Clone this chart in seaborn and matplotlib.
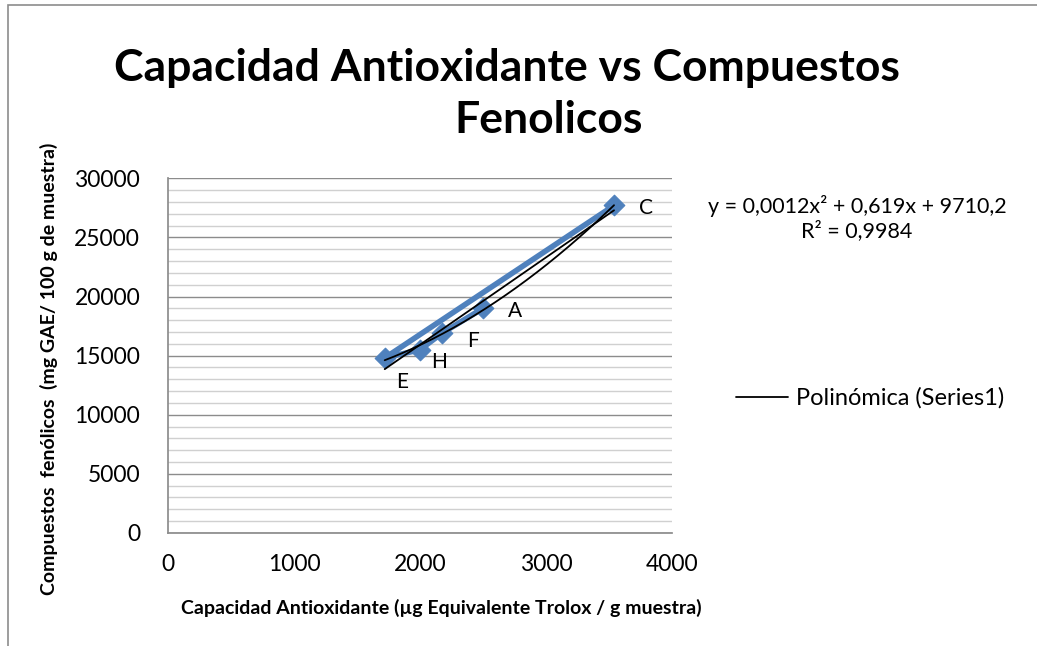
import numpy as np
import pandas as pd
import matplotlib
matplotlib.use("Agg")
import matplotlib.pyplot as plt
import seaborn as sns
from matplotlib.ticker import MultipleLocator
from matplotlib.patches import Rectangle

# data (series order as plotted)
muestras = ["A", "F", "H", "E", "C"]
capacidad = [2500, 2175, 2000, 1720, 3540]
fenolicos = [19000, 16900, 15500, 14800, 27700]
label_offsets = [(18, -2), (18, -6), (8, -9), (8, -17), (18, -2)]

title_lines = ["Capacidad Antioxidante vs Compuestos", "Fenolicos"]
equation = "y = 0,0012x² + 0,619x + 9710,2\nR² = 0,9984"

df = pd.DataFrame({"muestra": muestras, "x": capacidad, "y": fenolicos})

sns.set_theme(style="white")
plt.rcParams["font.family"] = ["Lato", "DejaVu Sans"]
plt.rcParams["text.color"] = "black"
plt.rcParams["axes.labelcolor"] = "black"
plt.rcParams["xtick.color"] = "black"
plt.rcParams["ytick.color"] = "black"

fig = plt.figure(figsize=(10.37, 6.46), dpi=100)
ax = fig.add_axes([0.162, 0.175, 0.486, 0.549])

# border of the chart area
fig.patches.append(Rectangle((8 / 1037, -0.1), 1.2, 1.1 - 5 / 646, transform=fig.transFigure,
                             fill=False, edgecolor="#8c8c8c", linewidth=1.2))

blue = "#4F81BD"
sns.lineplot(data=df, x="x", y="y", sort=False, estimator=None, color=blue,
             linewidth=4, ax=ax, zorder=3)
sns.scatterplot(data=df, x="x", y="y", marker="D", s=110, color=blue,
                edgecolor=blue, ax=ax, zorder=4)

# trend lines
xs = np.linspace(min(capacidad), max(capacidad), 200)
poly = np.polyfit(capacidad, fenolicos, 2)
lin = np.polyfit(capacidad, fenolicos, 1)
ax.plot(xs, np.polyval(lin, xs), color="black", linewidth=1.3, zorder=5)
ax.plot(xs, np.polyval(poly, xs), color="black", linewidth=1.3, zorder=5,
        label="Polinómica (Series1)")

for m, x, y, off in zip(muestras, capacidad, fenolicos, label_offsets):
    ax.annotate(m, (x, y), xytext=off, textcoords="offset points",
                fontsize=15, va="center", ha="left", color="black")

ax.set_xlim(0, 4000)
ax.set_ylim(0, 30000)
ax.xaxis.set_major_locator(MultipleLocator(1000))
ax.yaxis.set_major_locator(MultipleLocator(5000))
ax.yaxis.set_minor_locator(MultipleLocator(1000))
ax.grid(axis="y", which="major", color="#8c8c8c", linewidth=1)
ax.grid(axis="y", which="minor", color="#d0d0d0", linewidth=1)
ax.set_axisbelow(True)
for s in ["top", "right"]:
    ax.spines[s].set_visible(False)
for s in ["left", "bottom"]:
    ax.spines[s].set_color("#8c8c8c")
ax.tick_params(axis="both", which="major", direction="out", length=6, width=1,
               color="#8c8c8c", labelsize=16.5)
ax.tick_params(axis="y", which="major", pad=14)
ax.tick_params(axis="x", which="major", pad=9)
ax.tick_params(axis="y", which="minor", length=0)

ax.set_xlabel("Capacidad Antioxidante (µg Equivalente Trolox / g muestra)",
              fontsize=14, fontweight="bold")
ax.set_ylabel("Compuestos  fenólicos  (mg GAE/ 100 g de muestra)",
              fontsize=14, fontweight="bold")
ax.xaxis.set_label_coords(0.542, -0.185)
ax.yaxis.set_label_coords(-0.218, 0.462)

fig.text(507 / 1037, 1 - 68 / 646, title_lines[0], ha="center", va="center",
         fontsize=32, fontweight="bold")
fig.text(549 / 1037, 1 - 120 / 646, title_lines[1], ha="center", va="center",
         fontsize=32, fontweight="bold")

fig.text(857 / 1037, 1 - 218 / 646, equation, ha="center", va="center",
         fontsize=15.5, linespacing=1.15)

ax.legend(loc="center left", bbox_to_anchor=(1.085, 0.38), frameon=False,
          fontsize=17, handlelength=2.2, handletextpad=0.35)

fig.savefig("out.png", dpi=100)
